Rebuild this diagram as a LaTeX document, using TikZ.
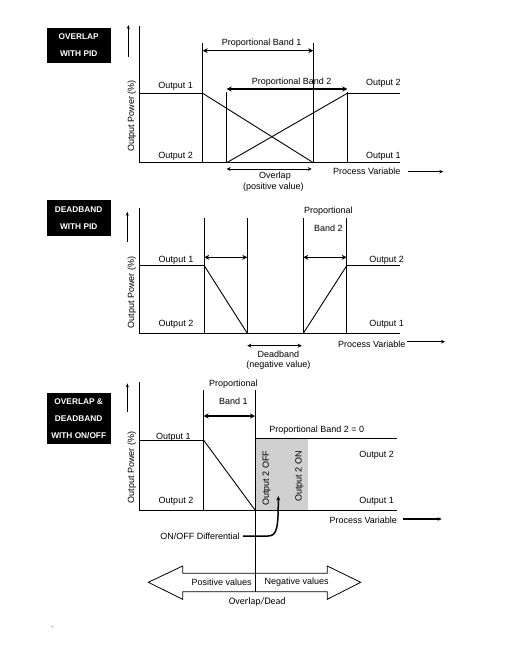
\documentclass[tikz,border=0pt]{standalone}
\usepackage{fontspec}
\setmainfont{Liberation Sans}
\newfontfamily\calfont{Carlito}
\usetikzlibrary{arrows.meta}
\definecolor{boxgray}{RGB}{208,208,208}
\begin{document}
\begin{tikzpicture}[x=1pt,y=-1pt,
  txt/.style={inner sep=0pt,font=\fontsize{9}{10}\selectfont},
  tag/.style={fill=black,text=white,inner sep=0pt,minimum width=64pt,align=center,
              font=\fontsize{8.3}{17}\selectfont\bfseries},
  ln/.style={line width=0.9pt},
  band/.style={line width=1.5pt,{Stealth[length=5pt,width=5pt]}-{Stealth[length=5pt,width=5pt]}},
  thinband/.style={line width=0.9pt,{Stealth[length=4pt,width=4pt]}-{Stealth[length=4pt,width=4pt]}},
  uparr/.style={line width=0.8pt,-{Stealth[length=4pt,width=3pt]}},
  pvarr/.style={line width=1.2pt,-{Stealth[length=4pt,width=3.5pt]}},
  ylab/.style={txt,rotate=90}]
\useasboundingbox (0,0) rectangle (509,648);

% ================= Panel 1 =================
\node[tag,minimum height=34.4pt] (t1) at (78.7,45.5) {OVERLAP\\WITH PID};
\coordinate (a1t) at (139,26); \coordinate (a1o) at (139,162.7); \coordinate (a1x) at (400,162.7);
\draw[ln] (a1t) -- (a1o) -- (a1x);
\draw[uparr] (128.3,56.7) -- (128.3,25);
\node[ylab] (y1) at (131.7,115.8) {Output Power (\%)};
\draw[ln] (139,93.3) -- (202.7,93.3);
\draw[ln] (202.7,42.7) -- (202.7,162.7);
\draw[ln] (226.7,91.7) -- (226.7,162.7);
\draw[ln] (313.3,42.7) -- (313.3,162.7);
\draw[ln] (347.3,91.7) -- (347.3,162.7);
\draw[ln] (202.7,93.3) -- (313.3,162.7);
\draw[ln] (226.7,162.7) -- (347.3,93.3);
\draw[ln] (347.3,93.3) -- (400,93.3);
\draw[band] (202.7,50.7) -- (313.3,50.7);
\draw[band] (226.7,89) -- (347.3,89);
\draw[thinband] (226.7,169) -- (311.7,169);
\node[txt] (pb1) at (261.7,43.3) {Proportional Band 1};
\node[txt] (pb2) at (291.7,82.3) {Proportional Band 2};
\node[txt] (o11) at (175.7,86.7) {Output 1};
\node[txt] (o12) at (175.7,156.7) {Output 2};
\node[txt] (o13) at (383.3,83.3) {Output 2};
\node[txt] (o14) at (383.3,156.7) {Output 1};
\node[txt] (ov1) at (275,176) {Overlap};
\node[txt] (ov2) at (273.3,187) {(positive value)};
\node[txt] (pv1) at (366.7,171.7) {Process Variable};
\coordinate (pv1e) at (443.3,171.7);
\draw[pvarr] (408.3,171.7) -- (pv1e);

% ================= Panel 2 =================
\node[tag,minimum height=35.7pt] (t2) at (78.7,217.8) {DEADBAND\\WITH PID};
\draw[ln] (139,208.3) -- (139,333.3) -- (400,333.3);
\draw[uparr] (127.3,241.7) -- (127.3,211.7);
\node[ylab] (y2) at (131.7,292.5) {Output Power (\%)};
\draw[ln] (139,265.7) -- (204.3,265.7);
\draw[ln] (204.3,217.7) -- (204.3,333.3);
\draw[ln] (247.3,217.7) -- (247.3,333.3);
\draw[ln] (303.3,217.7) -- (303.3,333.3);
\draw[ln] (346.7,217.7) -- (346.7,333.3);
\draw[ln] (204.3,265.7) -- (247.3,333.3);
\draw[ln] (303.3,333.3) -- (346.7,265.7);
\draw[ln] (346.7,265.7) -- (400,265.7);
\draw[band] (204.3,257.3) -- (247.3,257.3);
\draw[band] (303.3,257.3) -- (346.7,257.3);
\draw[thinband] (247.3,345.7) -- (301.7,345.7);
\node[txt] (pr2) at (328.3,211) {Proportional};
\node[txt] (bd2) at (328.3,228.3) {Band 2};
\node[txt] (o21) at (176,260) {Output 1};
\node[txt] (o22) at (176,324.3) {Output 2};
\node[txt] (o23) at (386.7,260) {Output 2};
\node[txt] (o24) at (386.7,324.3) {Output 1};
\node[txt] (db1) at (278.3,354.3) {Deadband};
\node[txt] (db2) at (278.3,365) {(negative value)};
\node[txt] (pv2) at (371.7,344.3) {Process Variable};
\draw[pvarr] (406.7,341.7) -- (445,341.7);

% ================= Panel 3 =================
\node[tag,minimum height=51pt] (t3) at (78.7,418.8) {OVERLAP \&\\DEADBAND\\WITH ON/OFF};
\fill[boxgray] (255,438.3) rectangle (308.3,510);
\draw[ln] (139,381.7) -- (139,510) -- (396.7,510);
\draw[uparr] (127.3,411.7) -- (127.3,383.3);
\node[ylab] (y3) at (131.7,467.5) {Output Power (\%)};
\draw[ln] (139,440) -- (203.5,440);
\draw[ln] (203.5,390) -- (203.5,510);
\draw[ln] (255,390) -- (255,591.7);
\draw[ln] (203.5,440) -- (255,510);
\draw[ln] (255,438.3) -- (396.7,438.3);
\draw[band] (203.5,416) -- (255,416);
\node[txt] (pr3) at (233.3,384.3) {Proportional};
\node[txt] (bd3) at (233.3,401.7) {Band 1};
\node[txt] (pb3) at (316.7,430) {Proportional Band 2 = 0};
\node[txt,rotate=90] (off) at (266.7,478.3) {Output 2 OFF};
\node[txt,rotate=90] (on) at (299.3,476.7) {Output 2 ON};
\node[txt] (o31) at (173.3,437.7) {Output 1};
\node[txt] (o32) at (176,501.7) {Output 2};
\node[txt] (o33) at (376.7,455.7) {Output 2};
\node[txt] (o34) at (376.7,501.7) {Output 1};
\node[txt] (pv3) at (363.3,520) {Process Variable};
\draw[pvarr] (403.3,519) -- (441.7,519);
\node[txt] (onoff) at (200,536) {ON/OFF Differential};
\coordinate (tip) at (278.3,496);
\draw[line width=1.5pt,-{Stealth[length=4.5pt,width=4pt]}] (onoff.east) ++(3,0) -- (268,536)
   .. controls (277,536) and (278.3,528) .. (tip);

% ================= Bottom double arrow =================
\draw[line width=0.8pt,fill=white] (148.3,582.3) -- (182.7,566) -- (182.7,573.3) -- (327.3,573.3)
  -- (327.3,566) -- (360.7,582.3) -- (327.3,599.3) -- (327.3,591.7) -- (182.7,591.7)
  -- (182.7,599.3) -- cycle;
\draw[ln] (255,573.3) -- (255,591.7);
\node[txt] (posv) at (221.7,582.3) {Positive values};
\node[txt] (negv) at (296.7,582.3) {Negative values};
\node[inner sep=0pt,font=\calfont\fontsize{10}{12}\selectfont] (ovd) at (257.3,602) {Overlap/Dead};
\fill[gray] (52.3,626.7) circle (0.7);
\end{tikzpicture}
\end{document}
